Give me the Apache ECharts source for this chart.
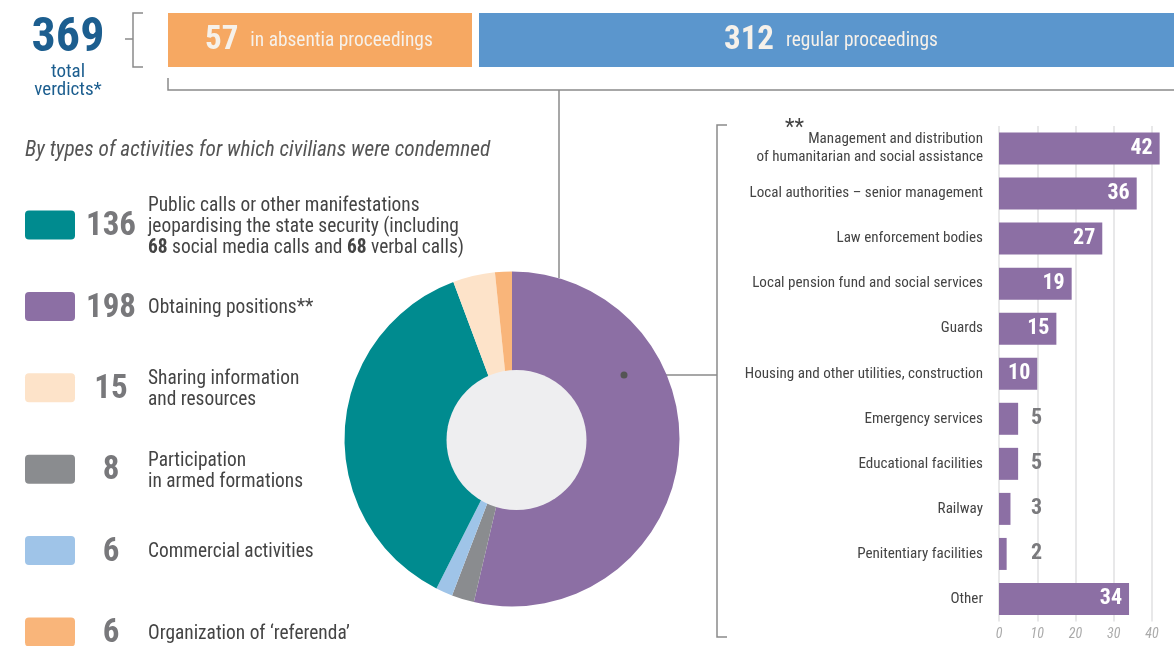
<!DOCTYPE html>
<html><head><meta charset="utf-8">
<script src="https://cdn.jsdelivr.net/npm/echarts@6/dist/echarts.min.js"></script>
<style>html,body{margin:0;padding:0;background:#fff}#c{width:1174px;height:646px}</style>
</head><body><div id="c"></div>
<script>
// ---------- DATA ----------
const totalVerdicts = 369;
const totalLabel = ['total', 'verdicts*'];
const proceedingsLabels = ['in absentia proceedings', 'regular proceedings'];
const proceedingsValues = [57, 312];

const chartTitle = 'By types of activities for which civilians were condemned';
const activityLabels = [
  'Public calls or other manifestations\njeopardising the state security (including\n{b|68} social media calls and {b|68} verbal calls)',
  'Obtaining positions**',
  'Sharing information\nand resources',
  'Participation\nin armed formations',
  'Commercial activities',
  'Organization of \u2018referenda\u2019'
];
const activityValues = [136, 198, 15, 8, 6, 6];
const activityColors = ['#008b8f', '#8c6fa4', '#fde3c9', '#8a8c8f', '#9fc4e8', '#f9b57a'];
const pieOrder = [1, 3, 4, 0, 2, 5];

const positionCategories = [
  'Management and distribution\nof humanitarian and social assistance',
  'Local authorities \u2013 senior management',
  'Law enforcement bodies',
  'Local pension fund and social services',
  'Guards',
  'Housing and other utilities, construction',
  'Emergency services',
  'Educational facilities',
  'Railway',
  'Penitentiary facilities',
  'Other'
];
const positionValues = [42, 36, 27, 19, 15, 10, 5, 5, 3, 2, 34];
const axisTicks = [0, 10, 20, 30, 40];

// ---------- STYLE ----------
const FONT = '"Roboto Condensed", "Liberation Sans Narrow", "Arial Narrow", "DejaVu Sans Condensed", Roboto, sans-serif';
const LINE = '#8a8a8a';

const chart = echarts.init(document.getElementById('c'));
const graphics = [];

// header
graphics.push({type:'text', style:{text:String(totalVerdicts), x:68, y:39, align:'center', verticalAlign:'middle',
  fontFamily:FONT, fontWeight:'bold', fontSize:48, fill:'#1c5e8f'}});
graphics.push({type:'text', style:{text:totalLabel[0], x:68, y:72, align:'center', verticalAlign:'middle',
  fontFamily:FONT, fontSize:19, fill:'#1c5e8f'}});
graphics.push({type:'text', style:{text:totalLabel[1], x:68, y:90, align:'center', verticalAlign:'middle',
  fontFamily:FONT, fontSize:19, fill:'#1c5e8f'}});
graphics.push({type:'polyline', shape:{points:[[143,13],[133,13],[133,67],[143,67]]}, style:{stroke:LINE, lineWidth:1.5, fill:null}});
graphics.push({type:'line', shape:{x1:125,y1:39,x2:133,y2:39}, style:{stroke:LINE, lineWidth:1.5}});

graphics.push({type:'rect', shape:{x:168,y:13,width:304,height:54}, style:{fill:'#f6a862'}});
graphics.push({type:'rect', shape:{x:479,y:13,width:700,height:54}, style:{fill:'#5b96cd'}});
const boxText = (v, t, x) => ({type:'text', style:{text:'{n|'+v+'}{t|'+t+'}', x:x, y:41, align:'left', verticalAlign:'middle',
  rich:{n:{fontFamily:FONT, fontWeight:'bold', fontSize:33, fill:'#f6f1ea', verticalAlign:'middle', padding:[0,12,0,0]},
        t:{fontFamily:FONT, fontSize:19.4, fill:'#f6f1ea', verticalAlign:'middle'}}}});
graphics.push(boxText(proceedingsValues[0], proceedingsLabels[0], 205));
graphics.push(boxText(proceedingsValues[1], proceedingsLabels[1], 724));

graphics.push({type:'polyline', shape:{points:[[168,78],[168,90],[1174,90]]}, style:{stroke:LINE, lineWidth:1.5, fill:null}});
graphics.push({type:'line', shape:{x1:559,y1:90,x2:559,y2:278}, style:{stroke:LINE, lineWidth:1.5}});

// title
graphics.push({type:'text', style:{text:chartTitle, x:25, y:151, align:'left', verticalAlign:'middle',
  fontFamily:FONT, fontStyle:'italic', fontSize:21.3, fill:'#555'}});

// legend
activityLabels.forEach((lab, i) => {
  const cy = 225 + i * 81.4;
  graphics.push({type:'rect', shape:{x:25, y:cy-14.5, width:50, height:29, r:4}, style:{fill:activityColors[i]}});
  graphics.push({type:'text', style:{text:String(activityValues[i]), x:111, y:cy+2, align:'center', verticalAlign:'middle',
    fontFamily:FONT, fontWeight:'bold', fontSize:33, fill:'#78787b'}});
  graphics.push({type:'text', style:{text:lab, x:148, y:cy+2, align:'left', verticalAlign:'middle',
    fontFamily:FONT, fontSize:19.4, lineHeight:21, fill:'#444',
    rich:{b:{fontFamily:FONT, fontWeight:'bold', fontSize:19.4, lineHeight:21, fill:'#444'}}}});
});

// right bracket and connector
graphics.push({type:'polyline', shape:{points:[[727,125],[717,125],[717,637],[727,637]]}, style:{stroke:LINE, lineWidth:1.5, fill:null}});
graphics.push({type:'line', shape:{x1:624,y1:375,x2:717,y2:375}, style:{stroke:LINE, lineWidth:1.5}});
graphics.push({type:'circle', shape:{cx:624, cy:375, r:3.5}, style:{fill:'#555'}, z:100});
graphics.push({type:'text', style:{text:'**', x:785, y:128, align:'left', verticalAlign:'middle',
  fontFamily:FONT, fontSize:22, fill:'#444'}});

const option = {
  backgroundColor:'#fff',
  animation:false,
  graphic:graphics,
  grid:{left:999, top:126, width:153, height:495.5, containLabel:false},
  xAxis:{type:'value', min:axisTicks[0], max:axisTicks[axisTicks.length-1], interval:axisTicks[1]-axisTicks[0],
    axisLine:{show:false}, axisTick:{show:false},
    splitLine:{show:true, lineStyle:{color:'#e0e0e2', width:1.5}},
    axisLabel:{fontFamily:FONT, fontStyle:'italic', fontSize:14, color:'#aaa', margin:6}},
  yAxis:{type:'category', inverse:true, data:positionCategories,
    axisLine:{show:false}, axisTick:{show:false},
    axisLabel:{fontFamily:FONT, fontSize:15.1, color:'#444', margin:16, lineHeight:18}},
  series:[
    {type:'pie', center:[512,439], radius:[60,167.5], startAngle:90, clockwise:true, silent:true,
     label:{show:false}, labelLine:{show:false}, itemStyle:{borderWidth:0},
     data:pieOrder.map(i => ({name:activityLabels[i], value:activityValues[i], itemStyle:{color:activityColors[i]}}))},
    {type:'pie', center:[516.5,440], radius:[0,70], silent:true, label:{show:false}, z:3,
     data:[{value:1, itemStyle:{color:'#eeeef0'}}]},
    {type:'bar', barWidth:32, clip:false, itemStyle:{color:'#8c6fa4'},
     data:positionValues.map(v => ({value:v, label: v >= 10 ?
       {show:true, position:'insideRight', distance:7, color:'#fff', fontFamily:FONT, fontWeight:'bold', fontSize:22} :
       {show:true, position:'insideLeft', distance:0, offset:[32,0], color:'#7a7a7d', fontFamily:FONT, fontWeight:'bold', fontSize:22}}))}
  ]
};
chart.setOption(option);
</script></body></html>
